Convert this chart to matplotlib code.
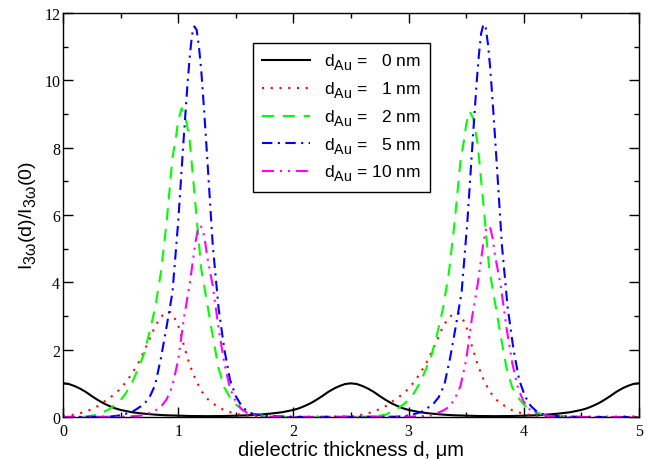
import matplotlib
matplotlib.use("Agg")
import matplotlib.pyplot as plt
from matplotlib.ticker import MultipleLocator

try:
    import matplotlib._mathtext as _mt
    _mt.SHRINK_FACTOR = 0.82
    _mt.FontConstantsBase.sub1 = 0.45
    _mt.FontConstantsBase.sub2 = 0.6
except Exception:
    pass

plt.rcParams['font.family'] = ['Liberation Sans', 'DejaVu Sans']
plt.rcParams['mathtext.fontset'] = 'custom'
plt.rcParams['mathtext.rm'] = 'Liberation Sans'
plt.rcParams['mathtext.it'] = 'Liberation Sans'
plt.rcParams['mathtext.bf'] = 'Liberation Sans:bold'

# ---------------- data ----------------
labels = ["0", "1", "2", "5", "10"]

x_d0 = [0.0, 0.05, 0.1, 0.15, 0.2, 0.25, 0.3, 0.35, 0.4, 0.45, 0.5, 0.6, 0.7, 0.8, 0.9, 1.0, 1.1, 1.25,
        1.4, 1.5, 1.6, 1.7, 1.8, 1.9, 2.0, 2.05, 2.1, 2.15, 2.2, 2.25, 2.3, 2.35, 2.4, 2.45, 2.5,
        2.55, 2.6, 2.65, 2.7, 2.75, 2.8, 2.85, 2.9, 2.95, 3.0, 3.1, 3.2, 3.3, 3.4, 3.5, 3.6, 3.75,
        3.9, 4.0, 4.1, 4.2, 4.3, 4.4, 4.5, 4.55, 4.6, 4.65, 4.7, 4.75, 4.8, 4.85, 4.9, 4.95, 5.0]
y_d0 = [1.0, 0.98, 0.92, 0.84, 0.74, 0.62, 0.51, 0.41, 0.33, 0.26, 0.21, 0.14, 0.10, 0.07, 0.05, 0.04, 0.03, 0.025,
        0.03, 0.04, 0.05, 0.07, 0.10, 0.14, 0.21, 0.26, 0.33, 0.41, 0.51, 0.62, 0.74, 0.84, 0.92, 0.98, 1.0,
        0.98, 0.92, 0.84, 0.74, 0.62, 0.51, 0.41, 0.33, 0.26, 0.21, 0.14, 0.10, 0.07, 0.05, 0.04, 0.03, 0.025,
        0.03, 0.04, 0.05, 0.07, 0.10, 0.14, 0.21, 0.26, 0.33, 0.41, 0.51, 0.62, 0.74, 0.84, 0.92, 0.98, 1.0]

x_d1 = [0.0, 0.1, 0.2, 0.3, 0.35, 0.4, 0.45, 0.5, 0.55, 0.6, 0.65, 0.7, 0.75, 0.8, 0.85, 0.9, 0.93, 0.96,
        1.0, 1.05, 1.1, 1.15, 1.2, 1.25, 1.3, 1.4, 1.5, 1.6, 1.75, 2.0, 2.25,
        2.5, 2.6, 2.7, 2.8, 2.85, 2.9, 2.95, 3.0, 3.05, 3.1, 3.15, 3.2, 3.25, 3.3, 3.35, 3.4, 3.43, 3.46,
        3.5, 3.55, 3.6, 3.65, 3.7, 3.75, 3.8, 3.9, 4.0, 4.1, 4.25, 4.5, 4.75, 5.0]
y_d1 = [0.02, 0.07, 0.16, 0.32, 0.44, 0.56, 0.68, 0.85, 1.05, 1.3, 1.58, 1.93, 2.3, 2.7, 2.98, 3.1, 3.12, 3.0,
        2.72, 2.12, 1.55, 1.12, 0.78, 0.55, 0.4, 0.2, 0.09, 0.04, 0.02, 0.01, 0.01,
        0.02, 0.07, 0.16, 0.32, 0.44, 0.56, 0.68, 0.85, 1.05, 1.3, 1.58, 1.93, 2.3, 2.7, 2.96, 3.08, 3.1, 2.98,
        2.7, 2.1, 1.55, 1.12, 0.78, 0.55, 0.4, 0.2, 0.09, 0.04, 0.02, 0.01, 0.01, 0.02]

x_d2 = [0.0, 0.2, 0.3, 0.4, 0.5, 0.55, 0.6, 0.65, 0.7, 0.75, 0.8, 0.85, 0.9, 0.95, 0.98, 1.0, 1.03, 1.06,
        1.08, 1.1, 1.15, 1.2, 1.25, 1.3, 1.35, 1.4, 1.45, 1.5, 1.55, 1.6, 1.65, 1.75, 2.0,
        2.7, 2.8, 2.9, 3.0, 3.05, 3.1, 3.15, 3.2, 3.25, 3.3, 3.35, 3.4, 3.45, 3.48, 3.5, 3.53, 3.56,
        3.58, 3.6, 3.65, 3.7, 3.75, 3.8, 3.85, 3.9, 3.95, 4.0, 4.05, 4.1, 4.15, 4.25, 4.5, 5.0]
y_d2 = [0.0, 0.01, 0.07, 0.23, 0.5, 0.73, 1.02, 1.42, 1.85, 2.5, 3.25, 4.3, 5.8, 7.7, 8.3, 8.8, 9.17, 8.95,
        8.6, 8.2, 6.3, 4.4, 3.4, 2.4, 1.45, 0.88, 0.58, 0.37, 0.24, 0.15, 0.09, 0.03, 0.0,
        0.01, 0.07, 0.23, 0.5, 0.73, 1.02, 1.42, 1.85, 2.5, 3.25, 4.3, 5.8, 7.6, 8.2, 8.7, 9.08, 8.88,
        8.5, 8.1, 6.3, 4.4, 3.4, 2.4, 1.45, 0.88, 0.58, 0.37, 0.24, 0.15, 0.09, 0.03, 0.0, 0.0]

x_d5 = [0.0, 0.4, 0.5, 0.6, 0.7, 0.75, 0.8, 0.85, 0.9, 0.95, 1.0, 1.05, 1.08, 1.1, 1.12, 1.14, 1.16, 1.18,
        1.2, 1.225, 1.25, 1.3, 1.35, 1.4, 1.45, 1.5, 1.55, 1.6, 1.65, 1.75, 2.0,
        2.9, 3.01, 3.11, 3.21, 3.26, 3.31, 3.36, 3.41, 3.46, 3.51, 3.56, 3.59, 3.61, 3.63, 3.65, 3.67,
        3.69, 3.71, 3.735, 3.76, 3.81, 3.86, 3.91, 3.96, 4.01, 4.06, 4.11, 4.16, 4.26, 4.5, 5.0]
y_d5 = [0.0, 0.01, 0.05, 0.15, 0.37, 0.58, 0.95, 1.75, 2.7, 3.7, 5.8, 8.4, 9.85, 10.7, 11.35, 11.6, 11.5, 11.0,
        10.3, 9.1, 7.8, 5.1, 3.25, 2.02, 1.1, 0.62, 0.33, 0.17, 0.09, 0.03, 0.0,
        0.01, 0.05, 0.15, 0.37, 0.58, 0.95, 1.75, 2.7, 3.7, 5.8, 8.4, 9.9, 10.75, 11.4, 11.67, 11.55,
        11.05, 10.3, 9.1, 7.8, 5.1, 3.25, 2.02, 1.1, 0.62, 0.33, 0.17, 0.09, 0.03, 0.0, 0.0]

x_d10 = [0.0, 0.5, 0.6, 0.7, 0.8, 0.85, 0.9, 0.95, 1.0, 1.05, 1.1, 1.15, 1.17, 1.19, 1.21, 1.23, 1.25, 1.3,
         1.35, 1.4, 1.45, 1.5, 1.55, 1.6, 1.7, 1.8, 2.0,
         3.0, 3.1, 3.2, 3.3, 3.35, 3.4, 3.45, 3.5, 3.55, 3.6, 3.65, 3.67, 3.69, 3.71, 3.73, 3.75, 3.8,
         3.85, 3.9, 3.95, 4.0, 4.05, 4.1, 4.2, 4.3, 4.5, 5.0]
y_d10 = [0.0, 0.01, 0.02, 0.05, 0.19, 0.3, 0.53, 0.92, 1.7, 2.95, 3.95, 5.2, 5.55, 5.69, 5.6, 5.3, 4.8, 3.9,
         2.65, 1.6, 0.85, 0.45, 0.23, 0.12, 0.04, 0.01, 0.0,
         0.01, 0.02, 0.05, 0.19, 0.3, 0.53, 0.92, 1.7, 2.95, 3.95, 5.2, 5.55, 5.68, 5.6, 5.3, 4.8, 3.9,
         2.65, 1.6, 0.85, 0.45, 0.23, 0.12, 0.04, 0.01, 0.0, 0.0]

series_x = [x_d0, x_d1, x_d2, x_d5, x_d10]
series_y = [y_d0, y_d1, y_d2, y_d5, y_d10]

# ---------------- styles ----------------
colors = ['black', '#ff0000', '#00ff00', '#0000ff', '#ff00ff']
styles = ['-', (0, (1, 3.2)), (0, (5.8, 4.2)), (0, (5.0, 2.6, 1.0, 2.6)),
          (0, (5.8, 2.8, 1.0, 2.8, 1.0, 2.8))]

fig = plt.figure(figsize=(6.5, 4.6), dpi=100)
ax = fig.add_axes([63 / 650, 42 / 460, 576 / 650, 404 / 460])

for xs, ys, c, ls, lab in zip(series_x, series_y, colors, styles, labels):
    ax.plot(xs, ys, color=c, linestyle=ls, linewidth=1.5,
            label=r'd$_{\mathrm{Au}}$ = ' + ('  ' if len(lab) == 1 else '') + lab + ' nm')

ax.set_xlim(0, 5)
ax.set_ylim(0, 12)
ax.xaxis.set_major_locator(MultipleLocator(1))
ax.xaxis.set_minor_locator(MultipleLocator(0.5))
ax.yaxis.set_major_locator(MultipleLocator(2))
ax.yaxis.set_minor_locator(MultipleLocator(1))
ax.tick_params(which='both', direction='in', top=True, right=True)
ax.tick_params(which='major', length=7.5, width=1.0)
ax.tick_params(which='minor', length=3.8, width=1.0)
ax.tick_params(axis='y', pad=2)
ax.tick_params(axis='x', pad=4)
for lab in ax.get_xticklabels() + ax.get_yticklabels():
    lab.set_fontfamily('Liberation Serif')
    lab.set_fontsize(11.5)
for sp in ax.spines.values():
    sp.set_linewidth(1.0)

ax.set_xlabel(u'dielectric thickness d, \u03bcm', fontsize=14.5, labelpad=1)
ax.set_ylabel(r'I$_{3\omega}$(d)/I$_{3\omega}$(0)', fontsize=14, labelpad=4)

leg = ax.legend(loc='upper left', bbox_to_anchor=(0.33, 0.925), fontsize=12.5,
                frameon=True, fancybox=False, edgecolor='black', framealpha=1,
                handlelength=2.8, labelspacing=0.45, borderpad=0.5, handletextpad=0.8,
                borderaxespad=0)
leg.get_frame().set_linewidth(1.0)

fig.savefig('out.png', dpi=100)
